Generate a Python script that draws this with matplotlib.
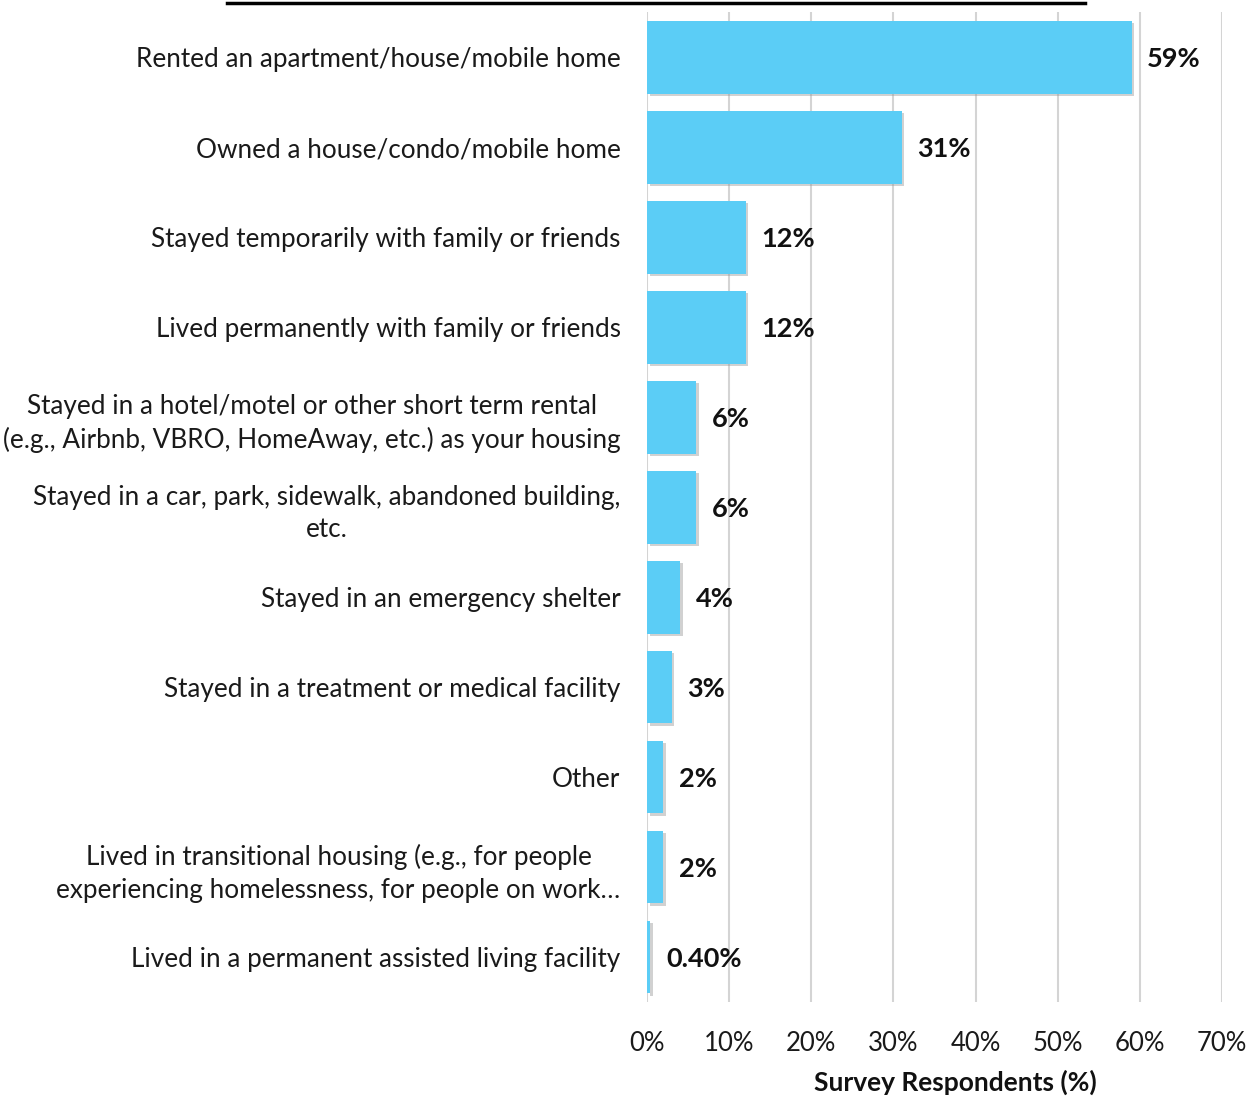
import matplotlib.pyplot as plt
import matplotlib.patheffects as pe
from matplotlib.lines import Line2D

# housing situation survey - horizontal bars, top item first
categories = [
    "Rented an apartment/house/mobile home",
    "Owned a house/condo/mobile home",
    "Stayed temporarily with family or friends",
    "Lived permanently with family or friends",
    "Stayed in a hotel/motel or other short term rental\n(e.g., Airbnb, VBRO, HomeAway, etc.) as your housing",
    "Stayed in a car, park, sidewalk, abandoned building,\netc.",
    "Stayed in an emergency shelter",
    "Stayed in a treatment or medical facility",
    "Other",
    "Lived in transitional housing (e.g., for people\nexperiencing homelessness, for people on work\u2026",
    "Lived in a permanent assisted living facility",
]
values = [59, 31, 12, 12, 6, 6, 4, 3, 2, 2, 0.4]
value_labels = ["59%", "31%", "12%", "12%", "6%", "6%", "4%", "3%", "2%", "2%", "0.40%"]
xticks = [0, 10, 20, 30, 40, 50, 60, 70]

plt.rcParams['font.family'] = ['Lato', 'DejaVu Sans']

fig = plt.figure(figsize=(12.5, 10.98), dpi=100)
ax = fig.add_axes([0.5176, 0.0874, 0.46, 0.9016])

ypos = list(range(len(categories)))
bars = ax.barh(ypos, values, height=0.81, color='#5bcdf6', zorder=3)
for b in bars:
    b.set_path_effects([pe.SimplePatchShadow(offset=(2, -2), shadow_rgbFace='#9a9a9a', alpha=0.45),
                        pe.Normal()])

for y, v, t in zip(ypos, values, value_labels):
    ax.text(v + 1.9, y + 0.02, t, va='center', ha='left', fontsize=19.5, fontweight='bold', color='#111111')

ax.set_ylim(len(categories) - 0.5, -0.5)
ax.set_xlim(0, 70)
ax.set_xticks(xticks)
ax.set_xticklabels([f"{x}%" for x in xticks])
ax.set_yticks(ypos)
ax.set_yticklabels(categories, multialignment='center', linespacing=1.38)
ax.tick_params(axis='y', length=0, pad=19, labelsize=18.8, labelcolor='#1a1a1a')
ax.tick_params(axis='x', length=0, pad=21, labelsize=18.5, labelcolor='#1a1a1a')
ax.grid(axis='x', color='#d4d4d4', linewidth=1.5, zorder=0)
for s in ax.spines.values():
    s.set_visible(False)

ax.set_xlabel("Survey Respondents (%)", fontsize=19, fontweight='bold', color='#111111')
ax.xaxis.set_label_coords(0.536, -0.068)

# underline of the (cropped) title at the very top
fig.add_artist(Line2D([227 / 1250, 1085 / 1250], [0.9975, 0.9975], color='black', linewidth=2.5))

fig.savefig("out.png", dpi=100)
